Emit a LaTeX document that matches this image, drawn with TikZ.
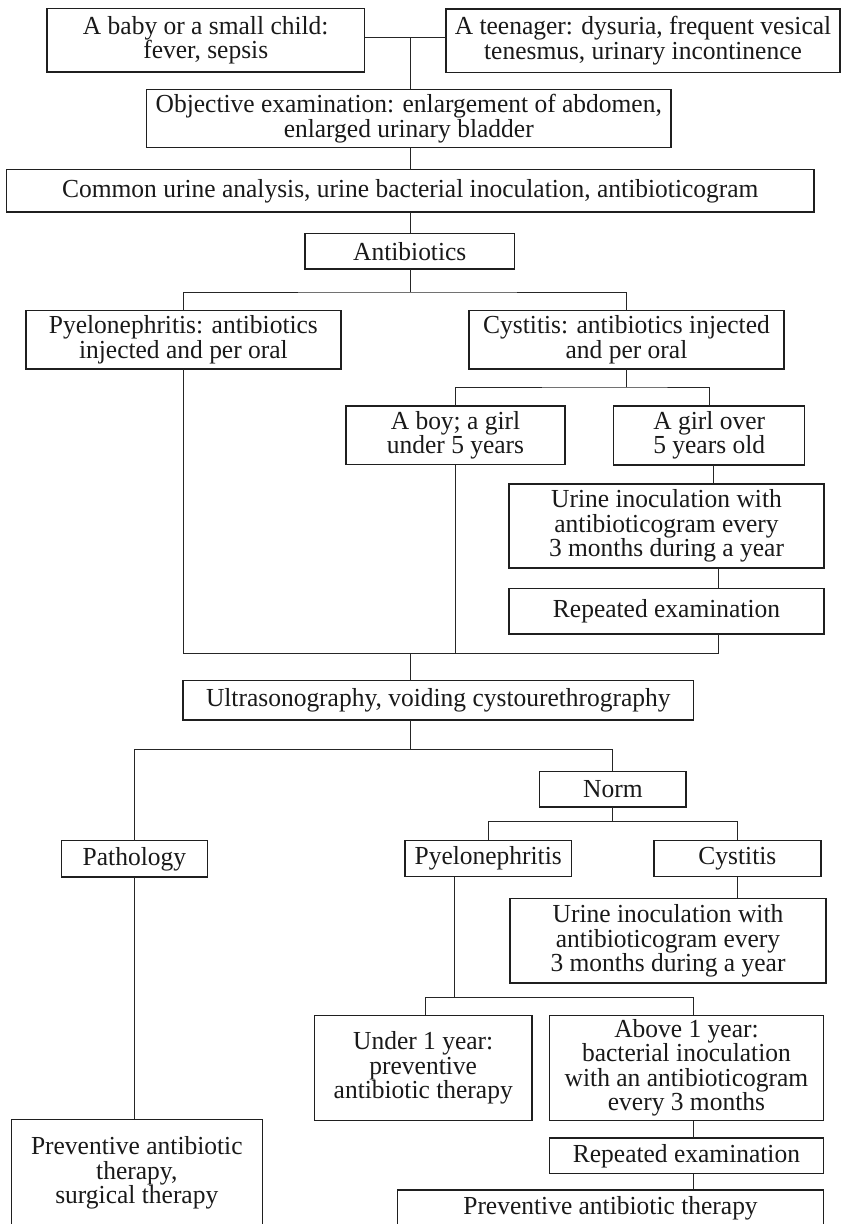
\documentclass[tikz,border=0pt]{standalone}
\usepackage{fontspec}
\setmainfont{Liberation Serif}
\newfontfamily\boxfont[FakeStretch=0.98]{Liberation Serif}
\begin{document}
\begin{tikzpicture}[x=1pt,y=-1pt,
  box/.style={draw=black!88, line width=1.4pt, inner sep=0pt, outer sep=0pt,
    align=center, text=black!90, font=\boxfont\fontsize{26}{24.5}\selectfont},
  link/.style={draw=black!85, line width=0.9pt}]
\useasboundingbox (0,0) rectangle (841,1224);
\clip (0,0) rectangle (841,1224);

% --- presenting complaints and first examinations
\node[box, minimum width=317.5, minimum height=63.5] (b1) at (205.75,40.25) {A baby or a small child:\\fever, sepsis};
\node[box, minimum width=394, minimum height=63.5] (b2) at (643,40.75) {A teenager: dysuria, frequent vesical\\tenesmus, urinary incontinence};
\node[box, minimum width=524.5, minimum height=58.4] (b3) at (408.75,118.5) {Objective examination: enlargement of abdomen,\\enlarged urinary bladder};
\node[box, minimum width=807.5, minimum height=42.3] (b4) at (410.25,190.85) {Common urine analysis, urine bacterial inoculation, antibioticogram};
\node[box, minimum width=209.5, minimum height=35.7] (b5) at (409.75,251.15) {Antibiotics};

% --- first branching
\node[box, minimum width=315.2, minimum height=58.3] (b6) at (183.4,339.85) {Pyelonephritis: antibiotics\\injected and per oral};
\node[box, minimum width=315, minimum height=58.3] (b7) at (626.5,339.85) {Cystitis: antibiotics injected\\and per oral};
\node[box, minimum width=219, minimum height=58.7] (b8) at (455.5,435.35) {A boy; a girl\\under 5 years};
\node[box, minimum width=191, minimum height=59] (b9) at (709.2,435.5) {A girl over\\5 years old};
\node[box, minimum width=315, minimum height=84] (b10) at (666.5,526) {Urine inoculation with\\antibioticogram every\\3 months during a year};
\node[box, minimum width=315, minimum height=45.3] (b11) at (666.5,611.35) {Repeated examination};

% --- imaging and its outcomes
\node[box, minimum width=510.7, minimum height=39.3] (b12) at (438.35,700.35) {Ultrasonography, voiding cystourethrography};
\node[box, minimum width=146.3, minimum height=35.7] (b13) at (612.85,789.15) {Norm};
\node[box, minimum width=146.4, minimum height=36.3] (b14) at (134.4,858.85) {Pathology};
\node[box, minimum width=166.4, minimum height=36.4] (b15) at (488.2,858.5) {Pyelonephritis};
\node[box, minimum width=166.8, minimum height=36.4] (b16) at (737.4,858.5) {Cystitis};
\node[box, minimum width=316, minimum height=84.3] (b17) at (668,940.85) {Urine inoculation with\\antibioticogram every\\3 months during a year};
\node[box, minimum width=217.6, minimum height=105.4] (b18) at (423.2,1068) {Under 1 year:\\preventive\\antibiotic therapy};
\node[box, minimum width=274.1, minimum height=105.4] (b19) at (686.45,1068) {Above 1 year:\\bacterial inoculation\\with an antibioticogram\\every 3 months};
\node[box, minimum width=274.1, minimum height=35.7] (b20) at (686.45,1155.85) {Repeated examination};
\node[box, minimum width=251, minimum height=107.7] (b21) at (136.8,1173.15) {Preventive antibiotic\\therapy,\\surgical therapy};
\node[box, minimum width=426, minimum height=36] (b22) at (610.5,1208) {Preventive antibiotic therapy};

% --- junction points and connector columns
\coordinate (j1) at (410,37.3);
\coordinate (j2) at (410,292);
\coordinate (j3) at (626.5,387);
\coordinate (c1) at (713.5,0);
\coordinate (c2) at (718.5,0);
\coordinate (j4) at (410,653.3);
\coordinate (j5) at (410,749.7);
\coordinate (j6) at (613.5,821.3);
\coordinate (j7) at (454.4,997.7);
\coordinate (c4) at (425.4,0);
\coordinate (c5) at (693.5,0);

% --- connectors
\draw[link] (b1.east |- j1) -- (b2.west |- j1);
\draw[link] (j1) -- (j1 |- b3.north);
\draw[link] (b3.south -| j1) -- (b4.north -| j1);
\draw[link] (b4.south -| j1) -- (b5.north -| j1);
\draw[link] (b5.south -| j2) -- (j2);
\draw[link] (b6.north) |- (j2) -| (b7.north);
\draw[link] (b7.south) -- (j3);
\draw[link] (b8.north) |- (j3) -| (b9.north);
\draw[link] (b9.south -| c1) -- (b10.north -| c1);
\draw[link] (b10.south -| c2) -- (b11.north -| c2);
\draw[link] (b6.south) |- (c2 |- j4) -- (b11.south -| c2);
\draw[link] (b8.south) -- (b8.south |- j4);
\draw[link] (j4) -- (j4 |- b12.north);
\draw[link] (j5 |- b12.south) -- (j5);
\draw[link] (b14.north) |- (j5) -| (b13.north);
\draw[link] (b13.south) -- (b13.south |- j6);
\draw[link] (b15.north) |- (j6) -| (b16.north);
\draw[link] (b14.south) -- (b14.south |- b21.north);
\draw[link] (b16.south) -- (b16.south |- b17.north);
\draw[link] (j7 |- b15.south) -- (j7);
\draw[link] (b18.north -| c4) |- (c5 |- j7) -- (b19.north -| c5);
\draw[link] (b19.south -| c5) -- (b20.north -| c5);
\draw[link] (b20.south -| c5) -- (b22.north -| c5);
\end{tikzpicture}
\end{document}
